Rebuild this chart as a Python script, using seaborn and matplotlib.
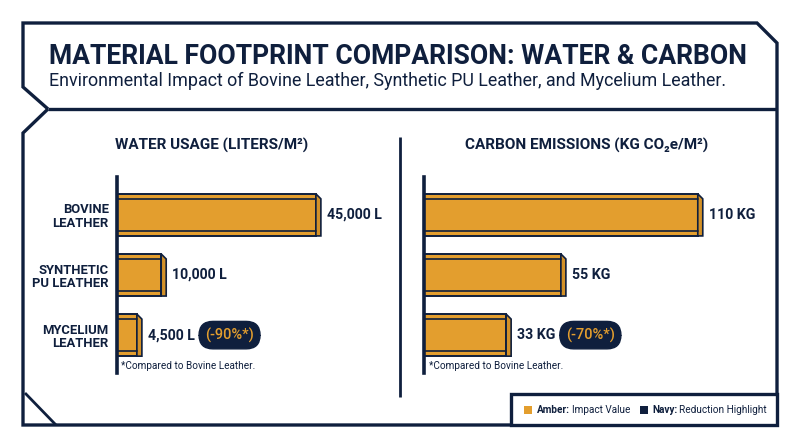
import matplotlib
matplotlib.use('Agg')
import matplotlib.pyplot as plt
from matplotlib.patches import Polygon, Rectangle
from matplotlib.lines import Line2D
import seaborn as sns
import pandas as pd

# data
materials = ['BOVINE\nLEATHER', 'SYNTHETIC\nPU LEATHER', 'MYCELIUM\nLEATHER']
water_liters = [45000, 10000, 4500]
carbon_kg = [110, 55, 33]
water_labels = ['45,000 L', '10,000 L', '4,500 L']
carbon_labels = ['110 KG', '55 KG', '33 KG']
water_cut = '(-90%*)'
carbon_cut = '(-70%*)'

navy = '#0f1f3d'
amber = '#e39e2e'
amber_dark = '#d39128'

sns.set_theme(style='white')
plt.rcParams['font.family'] = ['Roboto', 'DejaVu Sans']

W, H = 800, 447
fig = plt.figure(figsize=(8, 4.47), dpi=100)


def px(x, y):
    return x / W, 1 - y / H


def fline(pts, lw=2.4, color=navy):
    xs = [px(*p)[0] for p in pts]
    ys = [px(*p)[1] for p in pts]
    fig.add_artist(Line2D(xs, ys, color=color, lw=lw, transform=fig.transFigure,
                          solid_joinstyle='miter', solid_capstyle='butt'))


# frame
fline([(48, 109), (23, 87), (23, 23), (757, 23), (777, 43), (777, 394)])
fline([(48, 109), (777, 109)])
fline([(48, 109), (23, 133), (23, 425), (511, 425)])
fline([(25, 393), (56, 425)], lw=2)
fline([(400, 137), (400, 397)], lw=2)

# header text
fig.text(*px(49, 56), 'MATERIAL FOOTPRINT COMPARISON: WATER & CARBON', fontsize=19.1,
         fontweight='bold', color=navy, va='center', ha='left')
fig.text(*px(49, 81), 'Environmental Impact of Bovine Leather, Synthetic PU Leather, and Mycelium Leather.',
         fontsize=12.9, color=navy, va='center', ha='left')

# panel titles
fig.text(*px(212, 145), 'WATER USAGE (LITERS/M²)', fontsize=11, fontweight='bold',
         color=navy, va='center', ha='center')
fig.text(*px(587, 145), 'CARBON EMISSIONS (KG CO₂e/M²)', fontsize=11, fontweight='bold',
         color=navy, va='center', ha='center')


def panel(left, right, values, labels, cut, xmax, show_names):
    x0, y0 = px(left, 373)
    x1, y1 = px(right, 177)
    ax = fig.add_axes([x0, y0, x1 - x0, y1 - y0])
    df = pd.DataFrame({'material': materials, 'value': values})
    sns.barplot(data=df, x='value', y='material', orient='h', color=amber,
                saturation=1, edgecolor=navy, linewidth=1.4, width=0.7, ax=ax)
    ax.set_xlim(0, xmax)
    ax.set_ylim(2.63, -0.63)
    ax.set_xlabel('')
    ax.set_ylabel('')
    ax.set_xticks([])
    for s in ['top', 'right', 'bottom']:
        ax.spines[s].set_visible(False)
    ax.spines['left'].set_color(navy)
    ax.spines['left'].set_linewidth(2.6)
    ax.patch.set_alpha(0)
    if show_names:
        ax.tick_params(axis='y', length=0, pad=6)
        for t in ax.get_yticklabels():
            t.set_fontweight('bold')
            t.set_fontsize(9.4)
            t.set_color(navy)
            t.set_linespacing(1.05)
    else:
        ax.set_yticklabels([])
        ax.tick_params(axis='y', length=0)

    # depth in data units
    ax_w = (right - left)
    dx = 5 * xmax / ax_w
    dy = 5 / 60.0
    last = None
    for bar, lab in zip(ax.patches, labels):
        bx, by = bar.get_x(), bar.get_y()
        bw, bh = bar.get_width(), bar.get_height()
        ax.add_patch(Polygon([(bx + bw, by), (bx + bw + dx, by + dy), (bx + bw + dx, by + bh),
                              (bx + bw, by + bh)], closed=True, fc=amber_dark, ec=navy, lw=1.2))
        ax.plot([bx, bx + bw], [by + dy, by + dy], color=navy, lw=1.2)
        ax.plot([bx, bx + bw], [by + bh - dy, by + bh - dy], color=navy, lw=1.2)
        last = ax.text(bx + bw + dx * 2.2, by + bh / 2, lab, fontsize=10.2, fontweight='bold',
                       color=navy, va='center', ha='left')
    ax.annotate(cut, xy=(1, 0.5), xycoords=last, xytext=(7.5, 0), textcoords='offset points',
                fontsize=10.5, fontweight='medium', color=amber, va='center', ha='left',
                bbox=dict(boxstyle='round,pad=0.42,rounding_size=0.95', fc=navy, ec=navy))
    ax.text(0.015, 2.52, '*Compared to Bovine Leather.', fontsize=7.2, color=navy,
            va='center', ha='left', transform=ax.get_yaxis_transform())
    return ax


panel(117, 395, water_liters, water_labels, water_cut, 62900, True)
panel(424, 760, carbon_kg, carbon_labels, carbon_cut, 135, False)

# legend box
lx0, ly0 = px(511, 425)
lx1, ly1 = px(777, 394)
fig.add_artist(Rectangle((lx0, ly0), lx1 - lx0, ly1 - ly0, transform=fig.transFigure,
                         fc='white', ec=navy, lw=2.4))
fig.add_artist(Rectangle(px(524, 414), 8 / W, 8 / H, transform=fig.transFigure, fc=amber, ec='none'))
t = fig.text(*px(537, 410), 'Amber:', fontsize=7.2, fontweight='bold', color=navy, va='center')
fig.add_artist(plt.annotate('Impact Value', xy=(1, 0.5), xycoords=t, xytext=(1.5, 0),
                            textcoords='offset points', fontsize=7.2, color=navy,
                            va='center', ha='left', annotation_clip=False))
fig.add_artist(Rectangle(px(640, 414), 8 / W, 8 / H, transform=fig.transFigure, fc=navy, ec='none'))
t2 = fig.text(*px(652, 410), 'Navy:', fontsize=7.2, fontweight='bold', color=navy, va='center')
fig.add_artist(plt.annotate('Reduction Highlight', xy=(1, 0.5), xycoords=t2, xytext=(1.5, 0),
                            textcoords='offset points', fontsize=7.2, color=navy,
                            va='center', ha='left', annotation_clip=False))

fig.savefig('out.png', dpi=100, facecolor='white')
